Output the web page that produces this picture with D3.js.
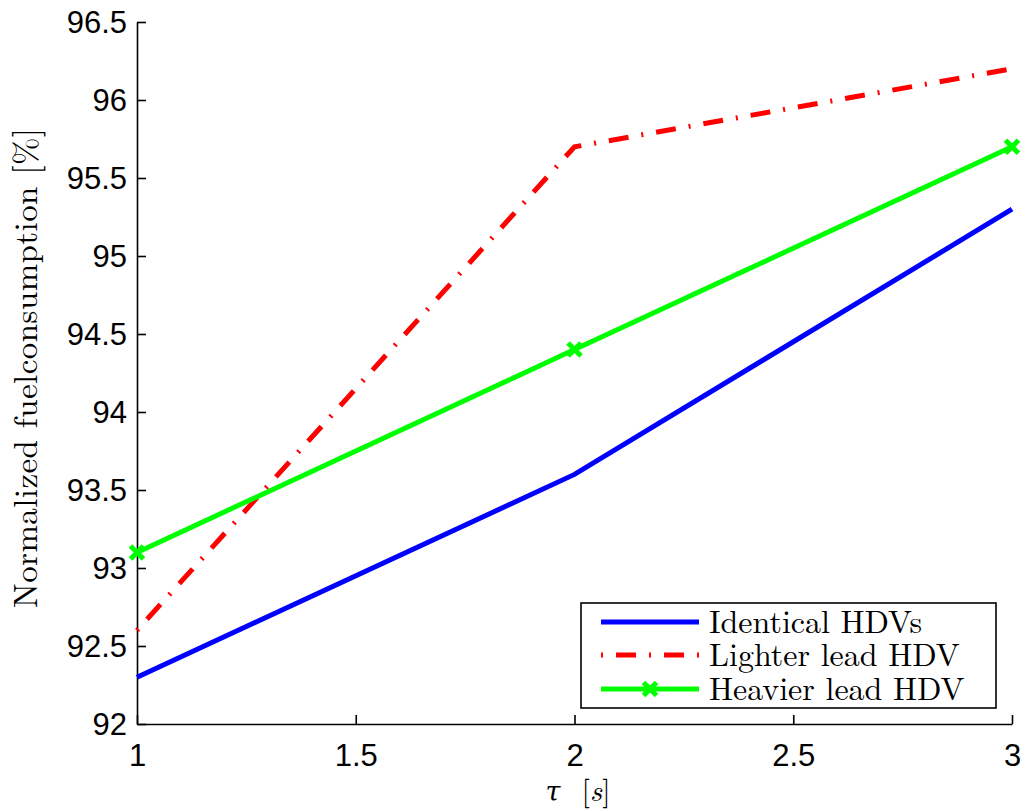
<!DOCTYPE html>
<html><head><meta charset="utf-8">
<script src="https://cdn.jsdelivr.net/npm/d3@7"></script>
<style>body{margin:0;background:#fff}</style>
</head><body>
<script>
const xTicks = [1, 1.5, 2, 2.5, 3];
const yTicks = [92, 92.5, 93, 93.5, 94, 94.5, 95, 95.5, 96, 96.5];
const tau = [1, 2, 3];
const identical = [92.3, 93.6, 95.3];
const lighter = [92.6, 95.7, 96.2];
const heavier = [93.1, 94.4, 95.7];
const seriesNames = ["Identical HDVs", "Lighter lead HDV", "Heavier lead HDV"];
const colors = ["#0000ff", "#ff0000", "#00ff00"];

const W = 1026, H = 811;
const m = {left: 137, right: 1012, top: 22, bottom: 724};
const svg = d3.select("body").append("svg").attr("width", W).attr("height", H);
const x = d3.scaleLinear().domain([1, 3]).range([m.left, m.right]);
const y = d3.scaleLinear().domain([92, 96.5]).range([m.bottom, m.top]);

const tickFont = "'Liberation Sans', Arial, sans-serif";
const serif = "'Latin Modern Roman','CMU Serif','DejaVu Serif', serif";

// axes
const xa = svg.append("g").attr("transform", `translate(0,${m.bottom})`)
  .call(d3.axisBottom(x).tickValues(xTicks).tickSizeInner(-9).tickSizeOuter(0).tickPadding(20).tickFormat(d3.format("")));
const ya = svg.append("g").attr("transform", `translate(${m.left},0)`)
  .call(d3.axisLeft(y).tickValues(yTicks).tickSizeInner(-9).tickSizeOuter(0).tickPadding(10).tickFormat(d3.format("")));
[xa, ya].forEach(a => {
  a.select(".domain").attr("stroke", "#000").attr("stroke-width", 1.6);
  a.selectAll(".tick line").attr("stroke", "#000").attr("stroke-width", 1.6);
  a.selectAll("text").attr("font-family", tickFont).attr("font-size", 31).attr("fill", "#000");
});
ya.selectAll("text").attr("dy", "0.35em");

// lines
const line = d3.line().x((d, i) => x(tau[i])).y(d => y(d));
const data = [identical, lighter, heavier];
const dashes = [null, "2,13,20,13", null];
data.forEach((s, k) => {
  svg.append("path").datum(s).attr("d", line).attr("fill", "none")
    .attr("stroke", colors[k]).attr("stroke-width", 5)
    .attr("stroke-dasharray", dashes[k]);
});
// markers for heavier
function xMark(g, cx, cy) {
  const r = 6.5;
  g.append("path").attr("d", `M${cx - r},${cy - r}L${cx + r},${cy + r}M${cx - r},${cy + r}L${cx + r},${cy - r}`)
    .attr("stroke", colors[2]).attr("stroke-width", 5).attr("fill", "none");
}
heavier.forEach((v, i) => xMark(svg, x(tau[i]), y(v)));

// axis labels
const xl = svg.append("g").attr("font-family", serif).attr("font-size", 30);
xl.append("text").attr("x", 553).attr("y", 801).attr("text-anchor", "middle")
  .attr("font-style", "italic").attr("font-size", 27).text("τ");
xl.append("text").attr("x", 596).attr("y", 801).attr("text-anchor", "middle")
  .html('[<tspan font-style="italic">s</tspan>]');
svg.append("text").attr("transform", `translate(37,368) rotate(-90)`)
  .attr("text-anchor", "middle").attr("font-family", serif).attr("font-size", 33)
  .attr("textLength", 480).attr("lengthAdjust", "spacing")
  .text("Normalized fuelconsumption [%]");

// legend
const lg = svg.append("g");
lg.append("rect").attr("x", 581).attr("y", 603).attr("width", 415).attr("height", 105)
  .attr("fill", "#fff").attr("stroke", "#000").attr("stroke-width", 1.6);
const rowY = [622, 655, 689];
seriesNames.forEach((n, k) => {
  lg.append("line").attr("x1", 601).attr("x2", 699).attr("y1", rowY[k]).attr("y2", rowY[k])
    .attr("stroke", colors[k]).attr("stroke-width", 5).attr("stroke-dasharray", dashes[k]);
  if (k === 2) xMark(lg, 650, rowY[k]);
  lg.append("text").attr("x", 709).attr("y", rowY[k] + 11).attr("font-family", serif)
    .attr("font-size", 32).text(n);
});
</script>
</body></html>
